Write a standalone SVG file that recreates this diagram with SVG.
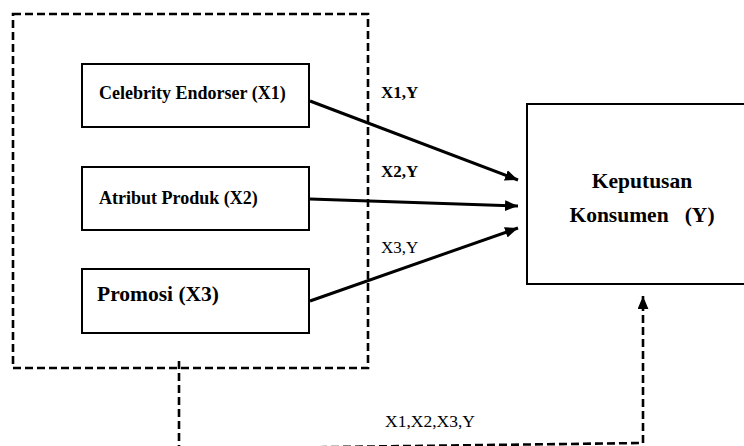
<svg xmlns="http://www.w3.org/2000/svg" width="744" height="446" viewBox="0 0 744 446">
<style>
.box{fill:#fff;stroke:#000;stroke-width:2}
.dash{fill:none;stroke:#000;stroke-width:2.6;stroke-dasharray:8 4}
.arr{fill:none;stroke:#000;stroke-width:3}
.tb{font-family:"Liberation Serif","Times New Roman",serif;font-weight:bold;fill:#000}
.tr{font-family:"Liberation Serif","Times New Roman",serif;fill:#000}
</style>
<defs>
<marker id="ah" viewBox="0 0 12 10" refX="12" refY="5" markerWidth="13" markerHeight="11" markerUnits="userSpaceOnUse" orient="auto">
<path d="M0,0 L12,5 L0,10 Z" fill="#000"/>
</marker>
</defs>
<rect width="744" height="446" fill="#fff"/>
<g id="group-x">
<rect class="dash" x="13" y="14" width="355" height="354"/>
</g>
<g id="x1">
<rect class="box" x="82" y="64" width="227" height="63"/>
<text class="tb" x="99" y="99" font-size="18">Celebrity Endorser (X1)</text>
</g>
<g id="x2">
<rect class="box" x="82" y="167" width="227" height="63"/>
<text class="tb" x="99" y="204" font-size="18">Atribut Produk (X2)</text>
</g>
<g id="x3">
<rect class="box" x="82" y="269" width="227" height="64"/>
<text class="tb" x="97" y="301" font-size="21.5">Promosi (X3)</text>
</g>
<g id="y">
<rect class="box" x="527" y="104" width="230" height="180"/>
<text class="tb" x="642" y="188" font-size="21.5" text-anchor="middle">Keputusan</text>
<text class="tb" x="642" y="222" font-size="21.5" text-anchor="middle" xml:space="preserve" style="white-space:pre">Konsumen   (Y)</text>
</g>
<g id="connectors">
<line class="arr" x1="310" y1="101" x2="518" y2="180" marker-end="url(#ah)"/>
<line class="arr" x1="310" y1="199" x2="518" y2="206" marker-end="url(#ah)"/>
<line class="arr" x1="310" y1="301" x2="518" y2="228" marker-end="url(#ah)"/>
<path class="dash" d="M179,361 L179,449 L643,443"/>
<line class="dash" x1="643" y1="443" x2="643" y2="296" marker-end="url(#ah)"/>
<text class="tb" x="381" y="98" font-size="17">X1,Y</text>
<text class="tb" x="381" y="177" font-size="17">X2,Y</text>
<text class="tr" x="381" y="253" font-size="17">X3,Y</text>
<text class="tr" x="385" y="427" font-size="17.5">X1,X2,X3,Y</text>
</g>
</svg>
